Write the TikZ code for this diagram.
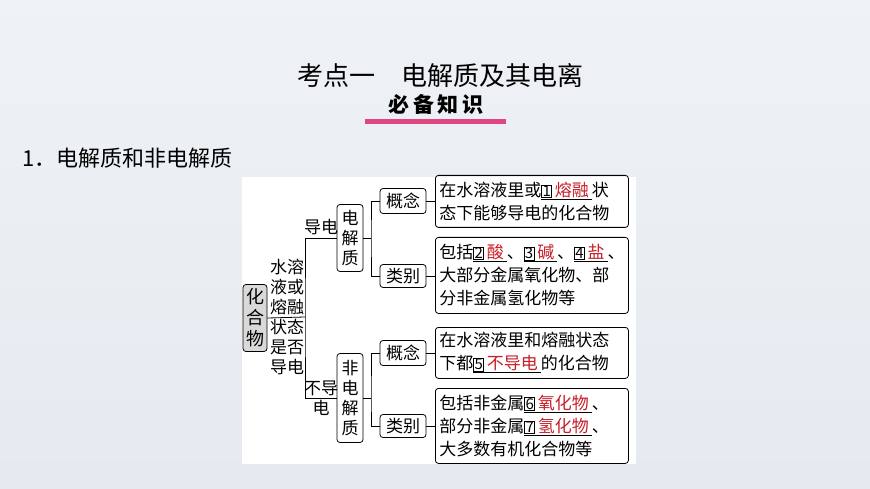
\documentclass[tikz,border=0pt]{standalone}
\usepackage{fontspec}
\setmainfont{Noto Sans CJK SC}
\definecolor{bgc}{RGB}{228,234,240}
\definecolor{ansred}{RGB}{200,30,40}
\definecolor{barpink}{RGB}{225,70,130}
\newcommand{\bnum}[1]{{\setlength{\fboxsep}{0.5pt}\setlength{\fboxrule}{0.7pt}\fbox{\fontsize{15}{15}\selectfont #1}}}
\newcommand{\ans}[2]{\underline{\bnum{#1}\,\textcolor{ansred}{#2}\,}}
\begin{document}
\begin{tikzpicture}[x=1pt,y=-1pt,
  every node/.style={inner sep=0pt},
  rbox/.style={draw,thick,rounded corners=3pt},
  small/.style={font=\fontsize{17}{20}\selectfont},
  cbox/.style={rbox,font=\fontsize{17}{23}\selectfont,align=left,anchor=north west,inner xsep=4pt,inner ysep=2pt},
  ln/.style={thick}]
\useasboundingbox (0,0) rectangle (870,489);
\shade[top color=bgc!60,bottom color=bgc] (0,0) rectangle (870,489);
\fill[white] (242,177) rectangle (636,464);
\node (title) at (440,76) {\fontsize{26}{26}\selectfont 考点一\quad 电解质及其电离};
\node (bk) at (436,104) {\fontsize{21}{21}\selectfont\bfseries 必\,备\,知\,识};
\fill[barpink] (365,119) rectangle (506,124);
\node[anchor=west] (h1) at (22,158) {\fontsize{22}{22}\selectfont 1．电解质和非电解质};
% root
\node[rbox,fill=gray!30,minimum width=24pt,minimum height=67pt,font=\fontsize{18}{21}\selectfont,align=center] (root) at (255,318) {化\\合\\物};
\node[small,align=center,anchor=south] (c1) at (287,315) {水溶\\液或\\熔融};
\node[small,align=center,anchor=north] (c2) at (287,319) {状态\\是否\\导电};
\coordinate (sp) at (305,317);
\draw[ln] (root.east) -- (sp);
% level 2
\node[rbox,small,minimum width=26pt,minimum height=67pt,align=center] (dj) at (350,238) {电\\解\\质};
\node[rbox,small,minimum width=26pt,minimum height=89pt,align=center] (fdj) at (350,398) {非\\电\\解\\质};
\draw[ln] (dj.west) -| (sp) |- (fdj.west);
\node[small] (l1) at (321,227) {导电};
\node[small,align=center] (l2) at (321,398) {不导\\电};
% upper
\node[rbox,small,minimum width=46pt,minimum height=25pt] (g1) at (403,201) {概念};
\node[rbox,small,minimum width=46pt,minimum height=23pt] (k1) at (403,276) {类别};
\coordinate (s1) at (371,238);
\draw[ln] (dj.east) -- (s1);
\draw[ln] (g1.west) -| (s1) |- (k1.west);
\node[cbox,text width=185pt,minimum height=52pt] (t1) at (435,175) {在水溶液里或\ans{1}{熔融}状\\态下能够导电的化合物};
\node[cbox,text width=185pt,minimum height=76pt] (t2) at (435,237) {包括\ans{2}{酸}、\ans{3}{碱}、\ans{4}{盐}、\\大部分金属氧化物、部\\分非金属氢化物等};
\draw[ln] (g1.east) -- (g1.east -| t1.west);
\draw[ln] (k1.east) -- (k1.east -| t2.west);
% lower
\node[rbox,small,minimum width=46pt,minimum height=25pt] (g2) at (403,353) {概念};
\node[rbox,small,minimum width=46pt,minimum height=23pt] (k2) at (403,426) {类别};
\coordinate (s2) at (371,398);
\draw[ln] (fdj.east) -- (s2);
\draw[ln] (g2.west) -| (s2) |- (k2.west);
\node[cbox,text width=185pt,minimum height=51pt] (t3) at (435,327) {在水溶液里和熔融状态\\下都\ans{5}{不导电}的化合物};
\node[cbox,text width=185pt,minimum height=75pt] (t4) at (435,388) {包括非金属\ans{6}{氧化物}、\\部分非金属\ans{7}{氢化物}、\\大多数有机化合物等};
\draw[ln] (g2.east) -- (g2.east -| t3.west);
\draw[ln] (k2.east) -- (k2.east -| t4.west);
\end{tikzpicture}
\end{document}
